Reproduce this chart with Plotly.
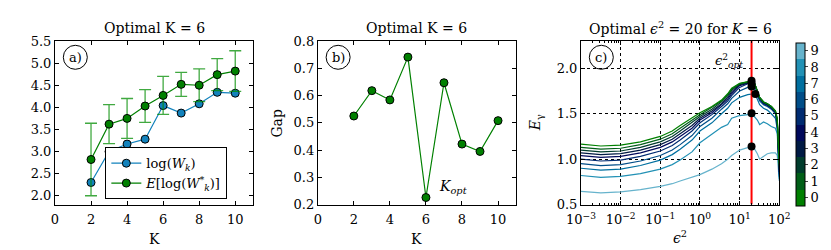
import plotly.graph_objects as go

# ---------------- data ----------------
K = [2, 3, 4, 5, 6, 7, 8, 9, 10]
log_wk = [2.30, 3.00, 3.17, 3.28, 4.04, 3.87, 4.08, 4.34, 4.32]
e_log_wk = [2.82, 3.62, 3.75, 4.03, 4.27, 4.52, 4.50, 4.74, 4.82]
e_log_err = [0.82, 0.44, 0.45, 0.37, 0.43, 0.27, 0.37, 0.36, 0.46]
gap = [0.525, 0.618, 0.584, 0.741, 0.226, 0.647, 0.422, 0.395, 0.508]

eps2 = [0.001, 0.00316, 0.01, 0.0316, 0.1, 0.2, 0.316, 0.63, 1.0, 2.0, 3.5, 5.0, 6.3,
        10.0, 16.0, 20.0, 24.0, 28.0, 32.0, 40.0, 50.0, 63.0, 80.0, 89.0, 100.0]
E_gamma = [
    [1.166, 1.145, 1.155, 1.19, 1.25, 1.31, 1.37, 1.45, 1.51, 1.58, 1.65, 1.72, 1.78, 1.835, 1.85, 1.862, 1.83, 1.75, 1.68, 1.63, 1.61, 1.58, 1.53, 1.45, 0.95],
    [1.13, 1.11, 1.12, 1.16, 1.22, 1.28, 1.34, 1.43, 1.49, 1.57, 1.64, 1.71, 1.77, 1.83, 1.85, 1.86, 1.83, 1.75, 1.68, 1.63, 1.61, 1.58, 1.53, 1.44, 0.93],
    [1.10, 1.08, 1.09, 1.13, 1.19, 1.25, 1.31, 1.40, 1.47, 1.55, 1.63, 1.70, 1.76, 1.825, 1.845, 1.855, 1.83, 1.75, 1.68, 1.63, 1.61, 1.58, 1.53, 1.43, 0.90],
    [1.07, 1.05, 1.06, 1.10, 1.16, 1.22, 1.28, 1.37, 1.45, 1.53, 1.61, 1.68, 1.74, 1.82, 1.84, 1.85, 1.83, 1.74, 1.67, 1.62, 1.60, 1.57, 1.52, 1.42, 0.88],
    [1.04, 1.02, 1.03, 1.07, 1.13, 1.19, 1.25, 1.34, 1.43, 1.51, 1.60, 1.66, 1.72, 1.81, 1.835, 1.845, 1.82, 1.74, 1.67, 1.62, 1.60, 1.57, 1.52, 1.41, 0.86],
    [1.00, 0.98, 0.99, 1.03, 1.09, 1.15, 1.21, 1.31, 1.40, 1.49, 1.58, 1.64, 1.70, 1.79, 1.83, 1.835, 1.81, 1.73, 1.66, 1.61, 1.59, 1.56, 1.51, 1.40, 0.84],
    [0.95, 0.93, 0.94, 0.98, 1.04, 1.10, 1.16, 1.26, 1.36, 1.45, 1.55, 1.61, 1.67, 1.75, 1.79, 1.80, 1.77, 1.70, 1.64, 1.60, 1.58, 1.55, 1.50, 1.38, 0.82],
    [0.90, 0.88, 0.89, 0.93, 0.99, 1.05, 1.11, 1.21, 1.31, 1.40, 1.50, 1.56, 1.62, 1.68, 1.71, 1.715, 1.72, 1.66, 1.60, 1.56, 1.54, 1.50, 1.45, 1.33, 0.80],
    [0.82, 0.80, 0.81, 0.84, 0.89, 0.94, 0.99, 1.08, 1.18, 1.27, 1.35, 1.38, 1.45, 1.48, 1.49, 1.505, 1.47, 1.43, 1.38, 1.41, 1.39, 1.36, 1.34, 1.28, 0.78],
    [0.645, 0.63, 0.64, 0.665, 0.70, 0.73, 0.76, 0.80, 0.83, 0.89, 0.95, 1.00, 1.04, 1.10, 1.13, 1.14, 1.11, 1.06, 1.00, 1.03, 1.06, 1.07, 1.07, 1.04, 0.76],
]
opt_x = [20, 20, 20, 25, 20, 20]
opt_y = [1.862, 1.835, 1.80, 1.718, 1.505, 1.14]
eps_opt = 20
cb_labels = [str(i) for i in range(10)]
xtick_c_vals = [1e-3, 1e-2, 1e-1, 1e0, 1e1, 1e2]
xtick_c_text = ["10<sup>\u22123</sup>", "10<sup>\u22122</sup>", "10<sup>\u22121</sup>",
                "10<sup>0</sup>", "10<sup>1</sup>", "10<sup>2</sup>"]

# ---------------- style ----------------
FONT = "DejaVu Serif"
W, H = 831, 250
colors = ["rgb(0,128,0)", "rgb(0,94,23)", "rgb(0,60,45)", "rgb(0,26,68)", "rgb(0,9,91)",
          "rgb(0,43,113)", "rgb(0,77,136)", "rgb(0,111,159)", "rgb(34,145,181)", "rgb(102,179,204)"]
BLUE = "rgb(18,130,188)"
GREEN = "rgb(0,128,0)"
TICK = 13
TXT = 14

minor_c = [m * 10.0 ** d for d in range(-3, 2) for m in range(2, 10)]

def px_x(p):
    return p / W

def px_y(p):
    return 1 - p / H

dom_a = [px_x(33), px_x(237.7)]
dom_b = [px_x(304.3), px_x(509)]
dom_c = [px_x(576), px_x(780.7)]
dom_y = [px_y(201.7), px_y(27.7)]

fig = go.Figure()

# panel a
fig.add_trace(go.Scatter(x=K, y=log_wk, mode="lines+markers", name="log(<i>W<sub>k</sub></i>)",
                         line=dict(color=BLUE, width=1.2),
                         marker=dict(color=BLUE, size=8, line=dict(color="black", width=1)),
                         xaxis="x", yaxis="y"))
fig.add_trace(go.Scatter(x=K, y=e_log_wk, mode="lines+markers",
                         name="<i>E</i>[log(<i>W</i><sup>*</sup><sub><i>k</i></sub>)]",
                         line=dict(color=GREEN, width=1.2),
                         marker=dict(color=GREEN, size=8, line=dict(color="black", width=1)),
                         error_y=dict(type="data", array=e_log_err, visible=True,
                                      color="rgba(0,140,0,0.75)", thickness=1.3, width=6),
                         xaxis="x", yaxis="y"))

# panel b
fig.add_trace(go.Scatter(x=K, y=gap, mode="lines+markers", showlegend=False,
                         line=dict(color=GREEN, width=1.2),
                         marker=dict(color=GREEN, size=8, line=dict(color="black", width=1)),
                         xaxis="x2", yaxis="y2"))

# panel c
for i in range(9, -1, -1):
    fig.add_trace(go.Scatter(x=eps2, y=E_gamma[i], mode="lines", showlegend=False,
                             line=dict(color=colors[i], width=1.2),
                             xaxis="x3", yaxis="y3"))
fig.add_trace(go.Scatter(x=[eps_opt, eps_opt], y=[0.5, 2.3], mode="lines", showlegend=False,
                         line=dict(color="red", width=2), xaxis="x3", yaxis="y3"))
fig.add_trace(go.Scatter(x=opt_x, y=opt_y, mode="markers", showlegend=False,
                         marker=dict(color="black", size=8), xaxis="x3", yaxis="y3"))

# colorbar
cs = []
for i, c in enumerate(colors):
    cs.append([i / 10, c])
    cs.append([(i + 1) / 10, c])
fig.add_trace(go.Scatter(x=[None], y=[None], mode="markers", showlegend=False,
                         marker=dict(color=[0], colorscale=cs, cmin=-0.5, cmax=9.5, showscale=True,
                                     colorbar=dict(x=px_x(798.3), xanchor="left", thickness=8.5,
                                                   thicknessmode="pixels", xpad=0, ypad=0,
                                                   len=173.4 / H, lenmode="fraction",
                                                   y=px_y(116), yanchor="middle",
                                                   tickvals=list(range(10)), ticktext=cb_labels,
                                                   ticks="outside", ticklen=3, outlinecolor="black",
                                                   outlinewidth=1,
                                                   tickfont=dict(family=FONT, size=TICK, color="black"))),
                         xaxis="x3", yaxis="y3"))

axis_common = dict(showline=True, linecolor="black", linewidth=1, mirror="ticks",
                   ticks="inside", ticklen=4, tickcolor="black", showgrid=False, zeroline=False,
                   tickfont=dict(family=FONT, size=TICK, color="black"))
grid_c = {"showgrid": True, "gridcolor": "black", "griddash": "dot", "gridwidth": 1}

fig.update_layout(
    width=W, height=H, margin=dict(l=0, r=0, t=0, b=0),
    paper_bgcolor="white", plot_bgcolor="white",
    font=dict(family=FONT, color="black"),
    xaxis=dict(domain=dom_a, anchor="y", range=[0, 11], tickvals=[0, 2, 4, 6, 8, 10],
               ticklabelstandoff=3, **axis_common),
    yaxis=dict(domain=dom_y, anchor="x", range=[1.8, 5.5], tickvals=[2.0, 2.5, 3.0, 3.5, 4.0, 4.5, 5.0, 5.5],
               tickformat=".1f", **axis_common),
    xaxis2=dict(domain=dom_b, anchor="y2", range=[0, 11], tickvals=[0, 2, 4, 6, 8, 10],
                ticklabelstandoff=3, **axis_common),
    yaxis2=dict(domain=dom_y, anchor="x2", range=[0.2, 0.8], tickvals=[0.2, 0.3, 0.4, 0.5, 0.6, 0.7, 0.8],
                tickformat=".1f", **axis_common),
    xaxis3=dict(domain=dom_c, anchor="y3", type="log", range=[-3, 2], tickmode="array",
                tickvals=xtick_c_vals, ticktext=xtick_c_text, ticklabelstandoff=3,
                minor=dict(tickmode="array", tickvals=minor_c, ticks="inside", ticklen=2,
                           tickcolor="black", showgrid=False),
                **{**axis_common, **grid_c}),
    yaxis3=dict(domain=dom_y, anchor="x3", range=[0.5, 2.3], tickvals=[0.5, 1.0, 1.5, 2.0], tickformat=".1f",
                **{**axis_common, **grid_c}),
    legend=dict(x=px_x(85), xanchor="left", y=px_y(196), yanchor="bottom",
                bordercolor="black", borderwidth=1, bgcolor="white", itemwidth=30,
                tracegroupgap=0,
                font=dict(family=FONT, size=13, color="black")),
    showlegend=True,
)

ann = []
def add_text(text, x, y, size=TXT, angle=0, xref="paper", yref="paper", xanchor="center"):
    ann.append(dict(text=text, x=x, y=y, xref=xref, yref=yref, showarrow=False, textangle=angle,
                    xanchor=xanchor, yanchor="middle", font=dict(family=FONT, size=size, color="black")))

add_text("Optimal K = 6", px_x(135.3), px_y(14))
add_text("Optimal K = 6", px_x(406.7), px_y(14))
add_text("Optimal <i>\u03f5</i><sup>2</sup> = 20 for <i>K</i> = 6", px_x(678.3), px_y(14))
add_text("K", px_x(135.3), px_y(238))
add_text("K", px_x(406.7), px_y(238))
add_text("<i>\u03f5</i><sup>2</sup>", px_x(678.3), px_y(236))
add_text("Gap", px_x(262), px_y(114.7), angle=-90)
add_text("<i>E</i><sub>\u03b3</sub>", px_x(529), px_y(114.7), angle=-90)
add_text("<i>K</i><sub><i>opt</i></sub>", 6.6, 0.265, xref="x2", yref="y2", xanchor="left")
add_text("<i>\u03f5</i><sup>2</sup><sub><i>opt</i></sub>", 1.14, 2.08, xref="x3", yref="y3",
         size=13, xanchor="right")
for lbl, xr, yr in [("a)", "x", "y"), ("b)", "x2", "y2"), ("c)", "x3", "y3")]:
    ann.append(dict(text=lbl, x=0.1026, y=0.9006, xref=xr + " domain", yref=yr + " domain",
                    showarrow=False, xanchor="center", yanchor="middle",
                    font=dict(family=FONT, size=13, color="black")))
fig.update_layout(annotations=ann)

shapes = []
for xr, yr in [("x", "y"), ("x2", "y2"), ("x3", "y3")]:
    shapes.append(dict(type="circle", xref=xr + " domain", yref=yr + " domain",
                       xsizemode="pixel", ysizemode="pixel", xanchor=0.1026, yanchor=0.9006,
                       x0=-12, x1=12, y0=-12, y1=12, line=dict(color="black", width=1)))
fig.update_layout(shapes=shapes)

fig.write_html("out.html")
